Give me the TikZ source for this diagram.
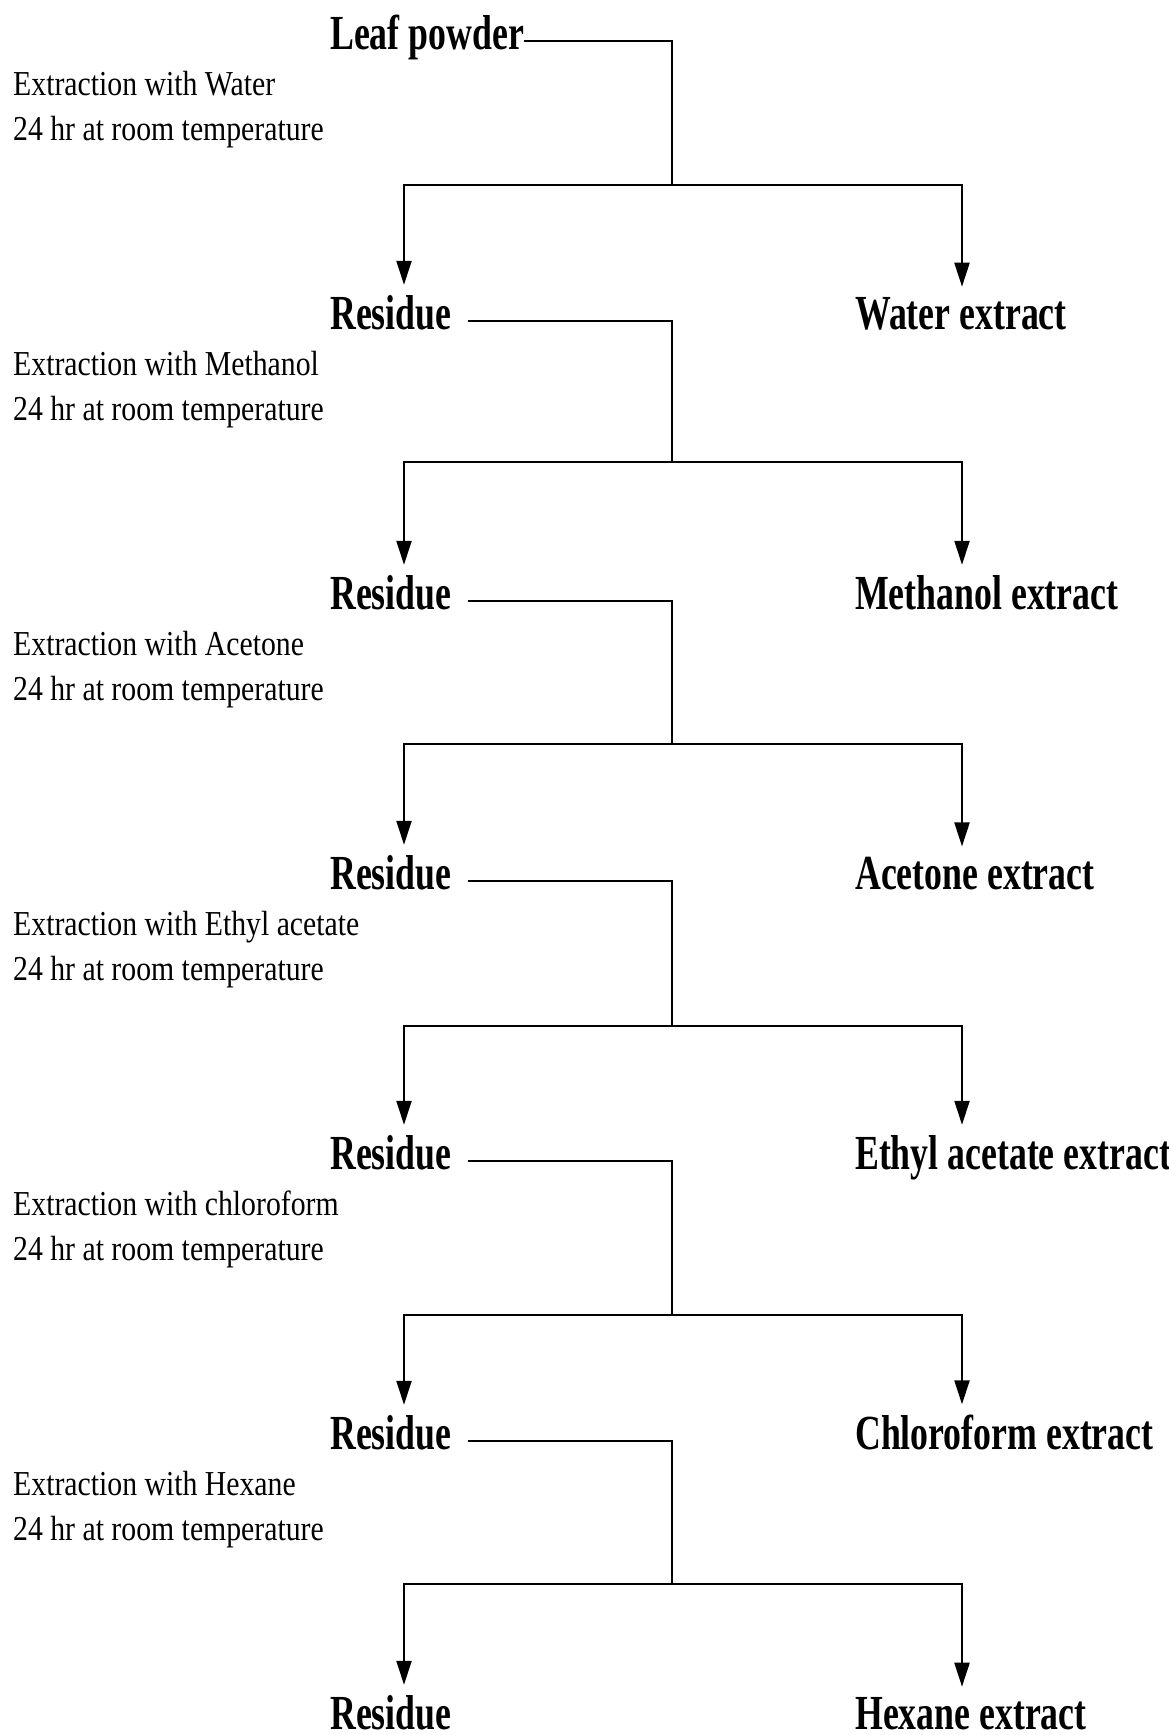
\documentclass[tikz,border=0pt]{standalone}
\usepackage{fontspec}
\newfontfamily\stagefont{Liberation Serif}[FakeStretch=0.73]
\newfontfamily\notefont{Liberation Serif}[FakeStretch=0.85]
\usetikzlibrary{arrows.meta,calc}

\begin{document}
\begin{tikzpicture}[x=1pt,y=-1pt,
  every node/.style={inner sep=0pt},
  stage/.style={anchor=base west,font=\stagefont\bfseries\fontsize{49}{49}\selectfont},
  note/.style={anchor=base west,align=left,font=\notefont\fontsize{35}{45}\selectfont},
  link/.style={line width=2.2pt},
  to/.style={link,-{Triangle[length=24pt,width=15pt]},shorten >=10pt}]

    \useasboundingbox (0,0) rectangle (1168,1735);
    \coordinate (lcol) at (404,0);
    \coordinate (rcol) at (962,0);

    \node[stage] (res0) at (330,49) {Leaf powder};

    % one extraction step per row
    \foreach \solvent/\product/\drop [count=\i] in {Water/Water extract/136,
        Methanol/Methanol extract/133, Acetone/Acetone extract/135,
        Ethyl acetate/Ethyl acetate extract/137, chloroform/Chloroform extract/146,
        Hexane/Hexane extract/135}
    {
        \pgfmathtruncatemacro\j{\i-1}
        \pgfmathsetmacro\base{49+280*\j}
        \pgfmathsetmacro\gap{ifthenelse(\j==0,0,16)}
        \node[note] (note\i) at (13,\base+91) {Extraction with \solvent\\24 hr at room temperature};
        \node[stage] (res\i) at (330,\base+280) {Residue};
        \node[stage] (ext\i) at (855,\base+280) {\product};
        \coordinate (split\i) at (672,\base+\drop);

        \draw[link] ($(res\j.base east)+(\gap,-8)$) -| (split\i);
        \draw[to] (split\i) -| (lcol |- res\i.north);
        \draw[to] (split\i) -| (rcol |- ext\i.north);
    }
\end{tikzpicture}
\end{document}
